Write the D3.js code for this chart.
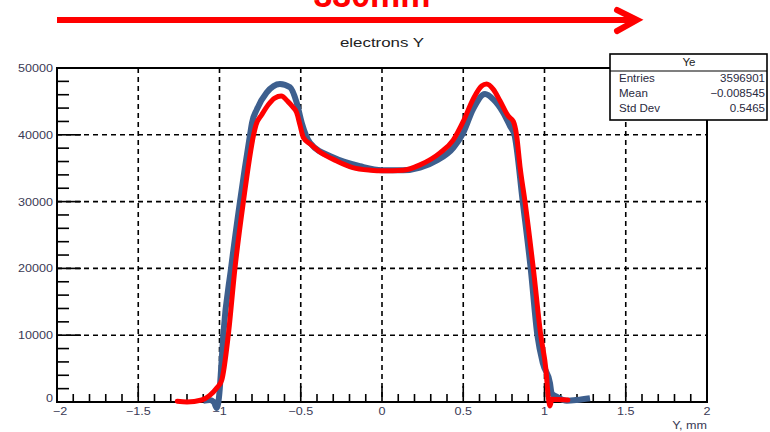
<!DOCTYPE html>
<html>
<head>
<meta charset="utf-8">
<script src="https://cdn.jsdelivr.net/npm/d3@7"></script>
<style>
  body { margin: 0; background: #fff; }
  svg { display: block; }
  text { font-family: "Liberation Sans", Arial, sans-serif; }
</style>
</head>
<body>
<div id="chart"></div>
<script>
// histogram (blue)
const blueX = [-1.10, -1.06, -1.035, -1.017, -1.0, -0.99, -0.977, -0.929, -0.874, -0.812, -0.80, -0.77, -0.71, -0.628,
  -0.566, -0.525, -0.494, -0.443, -0.30, -0.135, 0, 0.13, 0.234, 0.34, 0.44, 0.50, 0.56, 0.634, 0.685, 0.746,
  0.788, 0.815, 0.866, 0.915, 0.956, 0.99, 1.034, 1.044, 1.075, 1.137, 1.2, 1.28];
const blueY = [200, 300, 0, -900, 1500, 5000, 10000, 20000, 30000, 40000, 41800, 43800, 46300, 47600,
  47100, 44800, 41800, 38800, 36600, 35300, 34700, 34700, 35100, 36200, 38100, 40300, 43800, 46100, 45300, 43300,
  41300, 40000, 30000, 20000, 10000, 5800, 2800, 1300, 800, 200, 300, 550];

// fit (red)
const redX = [-1.26, -1.2, -1.11, -1.06, -1.017, -0.986, -0.946, -0.905, -0.853, -0.79, -0.775, -0.74, -0.70, -0.66,
  -0.62, -0.58, -0.55, -0.525, -0.505, -0.484, -0.44, -0.38, -0.28, -0.18, -0.07, 0, 0.13, 0.234, 0.357, 0.438,
  0.50, 0.56, 0.613, 0.644, 0.685, 0.726, 0.777, 0.808, 0.829, 0.849, 0.88, 0.931, 0.977, 1.009, 1.023, 1.034,
  1.045, 1.144];
const redY = [100, 0, 300, 1000, 2100, 3300, 10000, 20000, 30000, 40000, 41500, 43000, 44500, 45500,
  45800, 45000, 44200, 43300, 41500, 39600, 38600, 37400, 36100, 35100, 34700, 34600, 34700, 35500, 37300, 39200,
  42000, 45300, 47300, 47600, 46800, 45100, 42800, 42000, 39800, 35300, 30000, 20000, 10000, 4800, 800, -600,
  400, 300];

const xTicks = [-2, -1.5, -1, -0.5, 0, 0.5, 1, 1.5, 2];
const xTickLabels = ["\u22122", "\u22121.5", "\u22121", "\u22120.5", "0", "0.5", "1", "1.5", "2"];
const yTicks = [0, 10000, 20000, 30000, 40000, 50000];

const statsTitle = "Ye";
const statsLabels = ["Entries", "Mean", "Std Dev"];
const statsValues = ["3596901", "\u22120.008545", "0.5465"];

const W = 770, H = 432;
const margin = { top: 68, right: 63, bottom: 30, left: 57 };
const width = W - margin.left - margin.right;
const height = H - margin.top - margin.bottom;

const svg = d3.select("#chart").append("svg")
  .attr("width", W)
  .attr("height", H);

// stretched text helper (the original is a bit wide)
function stext(sel, x, y, str, opt) {
  opt = opt || {};
  return sel.append("text")
    .attr("transform", "translate(" + x + "," + y + ") scale(" + (opt.sx || 1.2) + ",1)")
    .attr("text-anchor", opt.anchor || "start")
    .attr("font-size", opt.size || 11)
    .attr("font-weight", opt.weight || "normal")
    .attr("fill", opt.fill || "#222")
    .text(str);
}

// red arrow and 330mm label
svg.append("text")
  .attr("x", 372).attr("y", 7)
  .attr("text-anchor", "middle")
  .attr("font-size", 34)
  .attr("font-weight", "bold")
  .attr("fill", "#ff0000")
  .text("330mm");

svg.append("line")
  .attr("x1", 57).attr("x2", 636)
  .attr("y1", 20).attr("y2", 20)
  .attr("stroke", "#ff0000").attr("stroke-width", 6);
svg.append("path")
  .attr("d", "M617,10 L637,20 L617,31")
  .attr("fill", "none")
  .attr("stroke", "#ff0000").attr("stroke-width", 6)
  .attr("stroke-linecap", "round").attr("stroke-linejoin", "miter");

stext(svg, 382, 47, "electrons Y", { anchor: "middle", size: 13.5, sx: 1.25 });

const g = svg.append("g")
  .attr("transform", "translate(" + margin.left + "," + margin.top + ")");

const x = d3.scaleLinear().domain([-2, 2]).range([0, width]);
const y = d3.scaleLinear().domain([0, 50000]).range([height, 0]);

// grid
g.selectAll(".vgrid")
  .data(xTicks.filter(d => d > -2 && d < 2))
  .enter().append("line")
  .attr("x1", d => x(d)).attr("x2", d => x(d))
  .attr("y1", 0).attr("y2", height)
  .attr("stroke", "#000").attr("stroke-width", 1.6)
  .attr("stroke-dasharray", "5,4");

g.selectAll(".hgrid")
  .data(yTicks.filter(d => d > 0 && d < 50000))
  .enter().append("line")
  .attr("x1", 0).attr("x2", width)
  .attr("y1", d => y(d)).attr("y2", d => y(d))
  .attr("stroke", "#000").attr("stroke-width", 1.6)
  .attr("stroke-dasharray", "5,4");

// axes with ROOT-style inward ticks
const yMinor = d3.range(0, 50001, 2000);
g.selectAll(".ytick")
  .data(yMinor)
  .enter().append("line")
  .attr("x1", 0)
  .attr("x2", d => d % 10000 === 0 ? 24 : 12)
  .attr("y1", d => y(d)).attr("y2", d => y(d))
  .attr("stroke", "#000").attr("stroke-width", 1.6);

const xMinor = d3.range(-20, 21).map(d => d / 10);
g.selectAll(".xtick")
  .data(xMinor)
  .enter().append("line")
  .attr("x1", d => x(d)).attr("x2", d => x(d))
  .attr("y1", height)
  .attr("y2", (d, i) => height - (i % 5 === 0 ? 16 : 8))
  .attr("stroke", "#000").attr("stroke-width", 1.6);

g.append("rect")
  .attr("x", 0).attr("y", 0)
  .attr("width", width).attr("height", height)
  .attr("fill", "none")
  .attr("stroke", "#000").attr("stroke-width", 2);

// tick labels
yTicks.forEach(function(d) {
  stext(g, -4, y(d) + (d === 0 ? 0 : 4), String(d), { anchor: "end", size: 10.5, fill: "#3a3a55" });
});
xTicks.forEach(function(d, i) {
  stext(g, x(d) + (i === 0 ? 3 : 0), height + 13, xTickLabels[i], { anchor: "middle", size: 10.5, fill: "#3a3a55" });
});
stext(g, width, height + 27, "Y, mm", { anchor: "end", size: 10.5, fill: "#3a3a55" });

// curves
const blueData = blueX.map((d, i) => [d, blueY[i]]);
const redData = redX.map((d, i) => [d, redY[i]]);

const line = d3.line()
  .curve(d3.curveMonotoneX)
  .x(d => x(d[0]))
  .y(d => y(d[1]));

g.append("path")
  .datum(blueData)
  .attr("d", line)
  .attr("fill", "none")
  .attr("stroke", "#3d5f8e")
  .attr("stroke-width", 6)
  .attr("stroke-linejoin", "round");

g.append("path")
  .datum(redData)
  .attr("d", line)
  .attr("fill", "none")
  .attr("stroke", "#ff0000")
  .attr("stroke-width", 5)
  .attr("stroke-linejoin", "round")
  .attr("stroke-linecap", "round");

// stats box
const box = svg.append("g");
box.append("rect")
  .attr("x", 610).attr("y", 54)
  .attr("width", 157).attr("height", 66)
  .attr("fill", "#fff")
  .attr("stroke", "#000").attr("stroke-width", 1.6);
box.append("line")
  .attr("x1", 610).attr("x2", 767)
  .attr("y1", 71).attr("y2", 71)
  .attr("stroke", "#000").attr("stroke-width", 1.2);
stext(box, 689, 66, statsTitle, { anchor: "middle", size: 10.5, sx: 1.1 });
statsLabels.forEach(function(d, i) {
  stext(box, 619, 82 + i * 15, d, { size: 10.5, sx: 1.1, fill: "#2a2a40" });
  stext(box, 765, 82 + i * 15, statsValues[i], { anchor: "end", size: 10.5, sx: 1.1, fill: "#2a2a40" });
});
</script>
</body>
</html>
